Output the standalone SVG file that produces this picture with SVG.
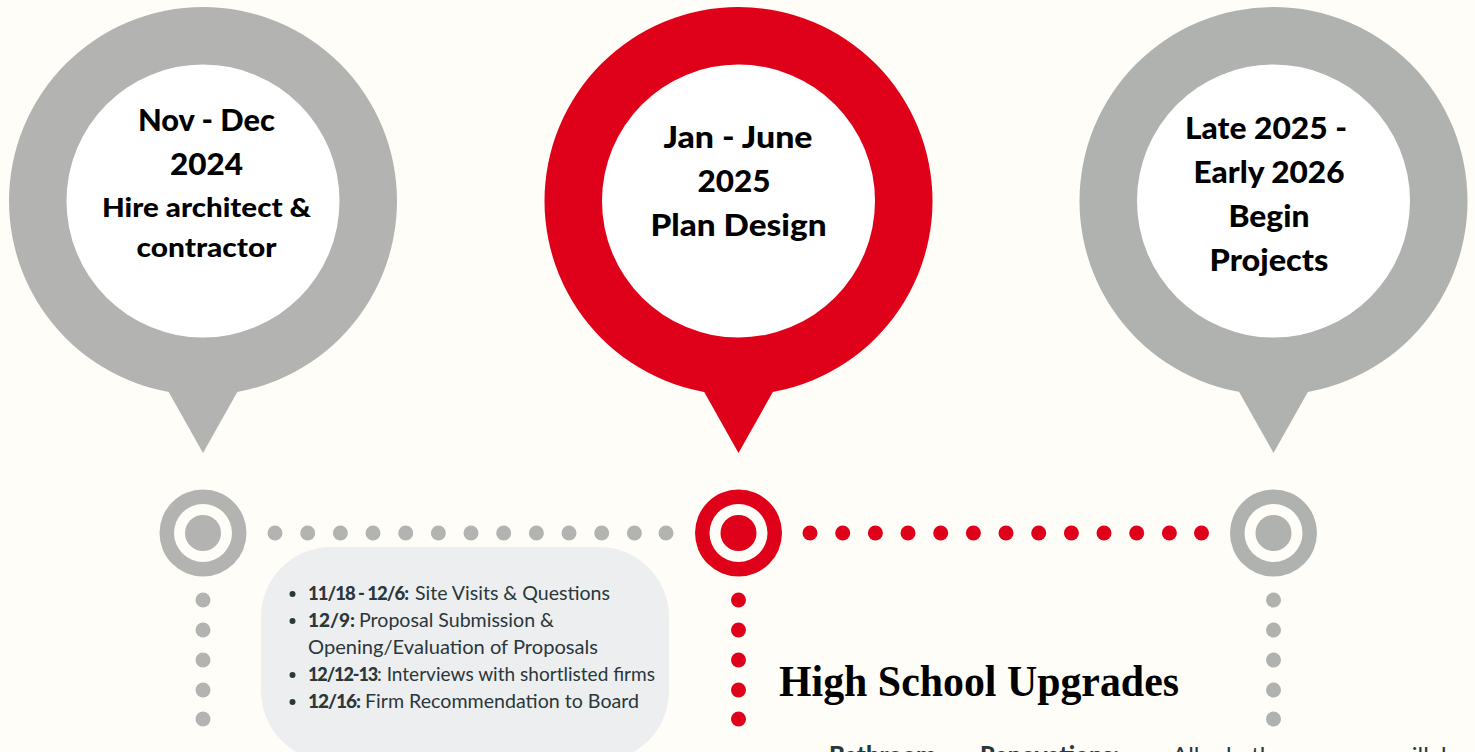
<svg xmlns="http://www.w3.org/2000/svg" width="1475" height="752" viewBox="0 0 1475 752">
<style>
.g{fill:#b3b4b2}.g3{fill:#b0b2af}.r{fill:#df0019}.w{fill:#fff}.bg{fill:#fffdf7}
.h{font-family:"Lato","Liberation Sans",sans-serif;font-weight:900;fill:#000;text-anchor:middle}
.h1{font-size:30px}.h2{font-size:27px}
.l{font-family:"Lato","Liberation Sans",sans-serif;font-size:20px;font-weight:400;fill:#2a373b}
.lk{font-family:"Lato","Liberation Sans",sans-serif;font-size:19px;font-weight:900;letter-spacing:-0.8px;fill:#2a373b}
.lb{font-family:"Lato","Liberation Sans",sans-serif;font-size:24px;font-weight:400;fill:#2a373b}
.b{font-weight:900}
</style>
<defs>
<g id="pin"><circle cx="0" cy="0" r="194"/><path d="M-36 188L0 252L36 188Z"/></g>
<g id="target"><circle r="43.500"/><circle r="29" class="bg"/><circle r="18"/></g>
</defs>
<rect class="bg" width="1475" height="752"/>
<g id="connectors">
<g class="g"><circle cx="275" cy="533" r="7.500"/><circle cx="307.700" cy="533" r="7.500"/><circle cx="340.400" cy="533" r="7.500"/><circle cx="373" cy="533" r="7.500"/><circle cx="405.700" cy="533" r="7.500"/><circle cx="438.400" cy="533" r="7.500"/><circle cx="471" cy="533" r="7.500"/><circle cx="503.700" cy="533" r="7.500"/><circle cx="536.400" cy="533" r="7.500"/><circle cx="569" cy="533" r="7.500"/><circle cx="601.700" cy="533" r="7.500"/><circle cx="634.400" cy="533" r="7.500"/><circle cx="666" cy="533" r="7.500"/>
<circle cx="203" cy="600" r="7.500"/><circle cx="203" cy="630" r="7.500"/><circle cx="203" cy="660" r="7.500"/><circle cx="203" cy="690" r="7.500"/><circle cx="203" cy="719" r="7.500"/></g>
<g class="g3"><circle cx="1273.500" cy="600" r="7.500"/><circle cx="1273.500" cy="630" r="7.500"/><circle cx="1273.500" cy="660" r="7.500"/><circle cx="1273.500" cy="690" r="7.500"/><circle cx="1273.500" cy="719" r="7.500"/></g>
<g class="r"><circle cx="810" cy="533" r="7.500"/><circle cx="842.700" cy="533" r="7.500"/><circle cx="875.400" cy="533" r="7.500"/><circle cx="908" cy="533" r="7.500"/><circle cx="940.700" cy="533" r="7.500"/><circle cx="973.400" cy="533" r="7.500"/><circle cx="1006" cy="533" r="7.500"/><circle cx="1038.700" cy="533" r="7.500"/><circle cx="1071.400" cy="533" r="7.500"/><circle cx="1104" cy="533" r="7.500"/><circle cx="1136.700" cy="533" r="7.500"/><circle cx="1169.400" cy="533" r="7.500"/><circle cx="1201.500" cy="533" r="7.500"/>
<circle cx="738.500" cy="600" r="7.500"/><circle cx="738.500" cy="630" r="7.500"/><circle cx="738.500" cy="660" r="7.500"/><circle cx="738.500" cy="690" r="7.500"/><circle cx="738.500" cy="719" r="7.500"/></g>
</g>
<g id="pin1"><use href="#pin" x="203" y="201" class="g"/><circle class="w" cx="203" cy="201" r="136.500"/>
<text class="h h1" x="206.500" y="131" textLength="137" lengthAdjust="spacingAndGlyphs">Nov - Dec</text><text class="h h1" x="206.500" y="175" textLength="73" lengthAdjust="spacingAndGlyphs">2024</text><text class="h h2" x="206.500" y="217" textLength="209" lengthAdjust="spacingAndGlyphs">Hire architect &amp;</text><text class="h h2" x="206.500" y="257" textLength="140" lengthAdjust="spacingAndGlyphs">contractor</text></g>
<g id="pin2"><use href="#pin" x="738.500" y="201" class="r"/><circle class="w" cx="738.500" cy="201" r="136.500"/>
<text class="h h1" x="738" y="148" textLength="149" lengthAdjust="spacingAndGlyphs">Jan - June</text><text class="h h1" x="734" y="192" textLength="73" lengthAdjust="spacingAndGlyphs">2025</text><text class="h h1" x="738.500" y="236" textLength="176" lengthAdjust="spacingAndGlyphs">Plan Design</text></g>
<g id="pin3"><use href="#pin" x="1273.500" y="201" class="g3"/><circle class="w" cx="1273.500" cy="201" r="136.500"/>
<text class="h h1" x="1266" y="139" textLength="162" lengthAdjust="spacingAndGlyphs">Late 2025 -</text><text class="h h1" x="1269" y="183" textLength="151" lengthAdjust="spacingAndGlyphs">Early 2026</text><text class="h h1" x="1269" y="227" textLength="81" lengthAdjust="spacingAndGlyphs">Begin</text><text class="h h1" x="1269" y="271" textLength="119" lengthAdjust="spacingAndGlyphs">Projects</text></g>
<g id="marker1" class="g" transform="translate(203 533)"><use href="#target"/></g>
<g id="marker2" class="r" transform="translate(738.500 533)"><use href="#target"/></g>
<g id="marker3" class="g3" transform="translate(1273.500 533)"><use href="#target"/></g>
<g id="notes">
<rect x="261" y="547" width="408" height="214" rx="70" fill="#edeeef"/>
<g fill="#2a373b"><circle cx="292.500" cy="594" r="3"/><circle cx="292.500" cy="621" r="3"/><circle cx="292.500" cy="675" r="3"/><circle cx="292.500" cy="702" r="3"/></g>
<text class="lk" x="308" y="600" style="font-size:18.500px;letter-spacing:-1px">11/18 - 12/6:</text><text class="l" x="415" y="600" textLength="195" lengthAdjust="spacingAndGlyphs">Site Visits &amp; Questions</text>
<text class="lk" x="308" y="627" style="letter-spacing:0">12/9:</text><text class="l" x="359" y="627" textLength="195" lengthAdjust="spacingAndGlyphs">Proposal Submission &amp;</text>
<text class="l" x="308" y="654" textLength="290" lengthAdjust="spacingAndGlyphs">Opening/Evaluation of Proposals</text>
<text class="lk" x="308" y="681" style="font-size:18px;letter-spacing:-1.100px">12/12-13</text><text class="l" x="377" y="681" textLength="278" lengthAdjust="spacingAndGlyphs">: Interviews with shortlisted firms</text>
<text class="lk" x="308" y="708" style="letter-spacing:-1px">12/16:</text><text class="l" x="365" y="708" textLength="274" lengthAdjust="spacingAndGlyphs">Firm Recommendation to Board</text>
</g>
<g id="upgrades">
<text x="779" y="696" font-family="'Liberation Serif',serif" font-weight="700" font-size="45" fill="#000" textLength="400" lengthAdjust="spacingAndGlyphs">High School Upgrades</text>
<text class="lb b" x="829" y="764">Bathroom</text>
<text class="lb b" x="980" y="764">Renovations:</text>
<text class="lb" x="1172" y="764">All</text>
<text class="lb" x="1226" y="764">bathrooms</text>
<text class="lb" x="1393" y="764">will</text>
<text class="lb" x="1441" y="764">be</text>
</g>
</svg>
